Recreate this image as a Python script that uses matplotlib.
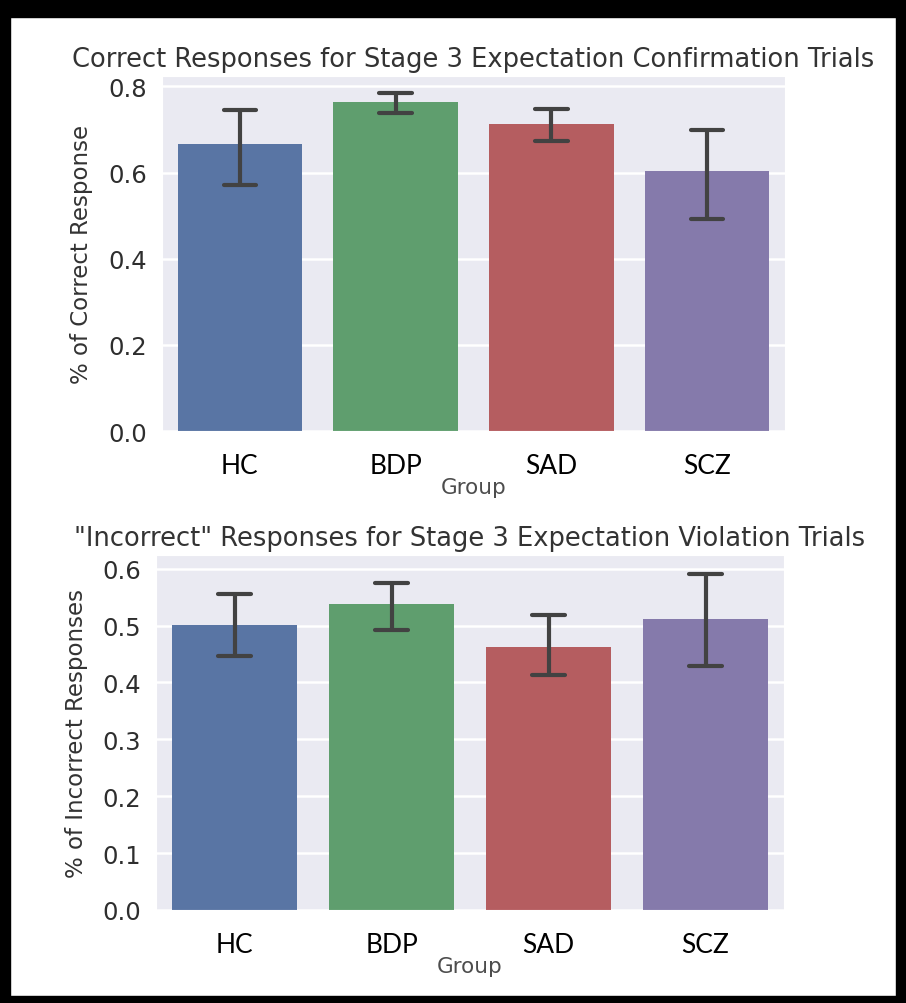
import matplotlib
matplotlib.use("Agg")
import matplotlib.pyplot as plt
from matplotlib.patches import Rectangle
import seaborn as sns

# ── Data ──────────────────────────────────────────────────────────────────────

GROUPS = ["HC", "BDP", "SAD", "SCZ"]

# Stage 3 expectation confirmation: proportion correct, with CI bounds
CONF_MEAN = [0.667, 0.763, 0.712, 0.603]
CONF_LO   = [0.570, 0.739, 0.672, 0.493]
CONF_HI   = [0.745, 0.785, 0.747, 0.698]

# Stage 3 expectation violation: proportion "incorrect", with CI bounds
VIOL_MEAN = [0.501, 0.538, 0.463, 0.512]
VIOL_LO   = [0.447, 0.492, 0.413, 0.429]
VIOL_HI   = [0.555, 0.575, 0.518, 0.590]

CONF_TICKS = [0.0, 0.2, 0.4, 0.6, 0.8]
VIOL_TICKS = [0.0, 0.1, 0.2, 0.3, 0.4, 0.5, 0.6]

# old seaborn "deep" palette, desaturated to 0.75 like barplot does
COLORS = ["#5975a4", "#5f9e6e", "#b55d60", "#857aab"]
ERR_COLOR = "#424242"

sns.set_style("darkgrid")
plt.rcParams["font.family"] = ["DejaVu Sans"]

W, H = 906, 1004
fig = plt.figure(figsize=(W / 100, H / 100), dpi=100)


def _box(x0, y0, x1, y1):
    """Pixel box (top-left origin) → figure fraction rect."""
    return [x0 / W, 1 - y1 / H, (x1 - x0) / W, (y1 - y0) / H]


def draw_panel(ax, means, lo, hi, ticks, ylim, title, ylabel, ylab_x):
    xs = list(range(len(GROUPS)))
    ax.bar(xs, means, width=0.8, color=COLORS, linewidth=0, zorder=2)
    for x, l, h in zip(xs, lo, hi):
        ax.plot([x, x], [l, h], color=ERR_COLOR, lw=3.0,
                solid_capstyle="round", zorder=3)
        for y in (l, h):
            ax.plot([x - 0.105, x + 0.105], [y, y], color=ERR_COLOR, lw=3.0,
                    solid_capstyle="round", zorder=3)
    ax.set_xlim(-0.5, len(GROUPS) - 0.5)
    ax.set_ylim(*ylim)
    ax.set_yticks(ticks)
    ax.set_yticklabels([f"{t:.1f}" for t in ticks])
    ax.grid(axis="x", visible=False)
    ax.grid(axis="y", color="white", lw=1.8)
    ax.tick_params(axis="y", labelsize=17.5, labelcolor="#2e2e2e",
                   length=0, pad=11)
    ax.set_xticks(xs)
    ax.set_xticklabels(GROUPS, fontsize=19, color="black",
                       family=["Lato", "DejaVu Sans"])
    ax.tick_params(axis="x", length=0, pad=16)
    ax.set_xlabel("Group", fontsize=15.5, color="#4d4d4d", labelpad=-1)
    ax.set_ylabel(ylabel, fontsize=16.5, color="#333333")
    ax.yaxis.set_label_coords(ylab_x, 0.5)
    ax.set_title(title, fontsize=18.5, color="#333333", pad=7)


ax1 = fig.add_axes(_box(162, 77, 785, 432))
draw_panel(ax1, CONF_MEAN, CONF_LO, CONF_HI, CONF_TICKS, (0, 0.824),
           "Correct Responses for Stage 3 Expectation Confirmation Trials",
           "% of Correct Response", -0.111)

ax2 = fig.add_axes(_box(156, 556, 784, 911))
draw_panel(ax2, VIOL_MEAN, VIOL_LO, VIOL_HI, VIOL_TICKS, (0, 0.624),
           '"Incorrect" Responses for Stage 3 Expectation Violation Trials',
           "% of Incorrect Responses", -0.109)

# black frame round the whole figure
frame = [(0, 0, 10, H), (0, 0, W, 18), (W - 10, 0, 10, H), (0, H - 7, W, 7)]
for x, y, w, h in frame:
    fig.patches.append(Rectangle((x / W, 1 - (y + h) / H), w / W, h / H,
                                 transform=fig.transFigure, color="black",
                                 zorder=10))

fig.savefig("out.png", dpi=100)
